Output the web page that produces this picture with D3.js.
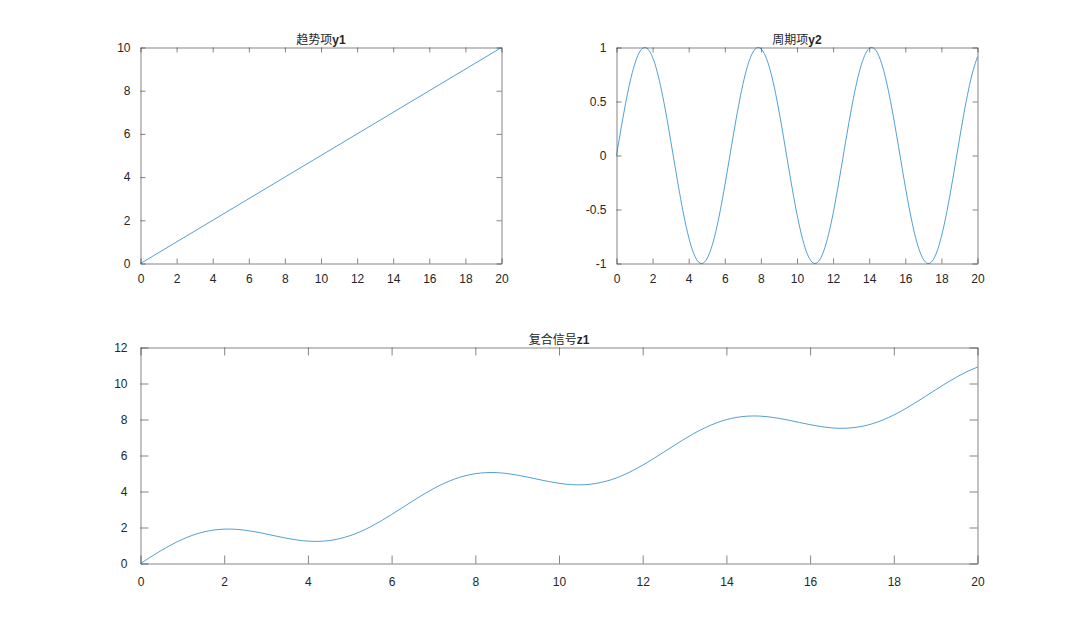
<!DOCTYPE html>
<html>
<head>
<meta charset="utf-8">
<script src="https://cdn.jsdelivr.net/npm/d3@7"></script>
<style>
  body { margin: 0; background: #fff; }
  text { font-family: "Liberation Sans", Arial, sans-serif; fill: #262626; }
</style>
</head>
<body>
<svg id="svg" width="1080" height="633"></svg>
<script>
// sample positions
var t = [0,0.25,0.5,0.75,1,1.25,1.5,1.75,2,2.25,2.5,2.75,3,3.25,3.5,3.75,4,4.25,4.5,4.75,
  5,5.25,5.5,5.75,6,6.25,6.5,6.75,7,7.25,7.5,7.75,8,8.25,8.5,8.75,9,9.25,9.5,9.75,
  10,10.25,10.5,10.75,11,11.25,11.5,11.75,12,12.25,12.5,12.75,13,13.25,13.5,13.75,
  14,14.25,14.5,14.75,15,15.25,15.5,15.75,16,16.25,16.5,16.75,17,17.25,17.5,17.75,
  18,18.25,18.5,18.75,19,19.25,19.5,19.75,20];

// trend term: straight line
var tTrend = [0, 20];
var y1 = [0, 10];

// periodic term
var y2 = [0,0.247,0.479,0.682,0.841,0.949,0.997,0.984,0.909,0.778,0.598,0.382,0.141,-0.108,-0.351,-0.572,
  -0.757,-0.895,-0.978,-0.999,-0.959,-0.859,-0.706,-0.508,-0.279,-0.033,0.215,0.450,0.657,0.824,0.938,0.995,
  0.989,0.922,0.799,0.625,0.412,0.174,-0.075,-0.320,-0.544,-0.735,-0.880,-0.970,-1.000,-0.968,-0.876,-0.729,
  -0.537,-0.311,-0.066,0.183,0.420,0.632,0.804,0.926,0.991,0.994,0.935,0.818,0.650,0.442,0.206,-0.042,
  -0.288,-0.516,-0.712,-0.864,-0.961,-1.000,-0.976,-0.891,-0.751,-0.564,-0.342,-0.099,0.150,0.390,0.606,0.784,0.913];

// composite signal
var z1 = [0,0.372,0.729,1.057,1.341,1.574,1.747,1.859,1.909,1.903,1.848,1.757,1.641,1.517,1.399,1.303,
  1.243,1.230,1.272,1.376,1.541,1.766,2.044,2.367,2.721,3.092,3.465,3.825,4.157,4.449,4.688,4.870,
  4.989,5.047,5.049,5.000,4.912,4.799,4.675,4.556,4.456,4.390,4.370,4.405,4.500,4.657,4.874,5.146,
  5.463,5.814,6.184,6.557,6.920,7.257,7.554,7.801,7.991,8.119,8.185,8.193,8.150,8.067,7.956,7.833,
  7.712,7.609,7.538,7.511,7.539,7.625,7.774,7.984,8.249,8.561,8.908,9.276,9.650,10.015,10.356,10.659,10.913];

var xTicks = [0,2,4,6,8,10,12,14,16,18,20];
var y1Ticks = [0,2,4,6,8,10];
var y2Ticks = [-1,-0.5,0,0.5,1];
var z1Ticks = [0,2,4,6,8,10,12];

var svg = d3.select("#svg");
var lineColor = "#0072BD";
var axisColor = "#262626";

// plain hyphen for negatives, like the original
var fmt = function(d) { return String(d); };

function drawPanel(opt) {
  var x = d3.scaleLinear().domain([0, 20]).range([opt.left, opt.right]);
  var y = d3.scaleLinear().domain(opt.yDomain).range([opt.bottom, opt.top]);
  var g = svg.append("g");
  var tl = opt.tickLen;

  // axes on all four sides, ticks pointing inward
  g.append("g").attr("transform", "translate(0," + opt.bottom + ")")
    .call(d3.axisBottom(x).tickValues(xTicks).tickSizeInner(-tl).tickSizeOuter(0).tickPadding(6 + tl).tickFormat(fmt));
  g.append("g").attr("transform", "translate(0," + opt.top + ")")
    .call(d3.axisTop(x).tickValues(xTicks).tickSizeInner(-tl).tickSizeOuter(0).tickFormat(""));
  g.append("g").attr("transform", "translate(" + opt.left + ",0)")
    .call(d3.axisLeft(y).tickValues(opt.yTicks).tickSizeInner(-tl).tickSizeOuter(0).tickPadding(5 + tl).tickFormat(fmt));
  g.append("g").attr("transform", "translate(" + opt.right + ",0)")
    .call(d3.axisRight(y).tickValues(opt.yTicks).tickSizeInner(-tl).tickSizeOuter(0).tickFormat(""));

  g.selectAll(".domain").attr("stroke", axisColor).attr("stroke-width", 0.8).attr("stroke-opacity", 0.7);
  g.selectAll(".tick line").attr("stroke", axisColor).attr("stroke-width", 0.8).attr("stroke-opacity", 0.7);
  g.selectAll(".tick text").attr("fill", axisColor)
    .style("font-family", "'Liberation Sans', Arial, sans-serif").style("font-size", "12px");

  var line = d3.line()
    .x(function(d) { return x(d[0]); })
    .y(function(d) { return y(d[1]); })
    .curve(opt.curve);
  g.append("path")
    .datum(opt.xs.map(function(v, i) { return [v, opt.ys[i]]; }))
    .attr("fill", "none")
    .attr("stroke", lineColor)
    .attr("stroke-width", 0.8)
    .attr("stroke-opacity", 0.85)
    .attr("d", line);

  var title = g.append("text")
    .attr("x", (opt.left + opt.right) / 2)
    .attr("y", opt.top - 4)
    .attr("text-anchor", "middle")
    .style("font-size", "12px");
  title.append("tspan").style("font-family", "'Noto Sans CJK SC', sans-serif").text(opt.titleCn);
  title.append("tspan").style("font-weight", "bold").text(opt.titleEn);
}

drawPanel({ left: 140.5, right: 501.5, top: 47.5, bottom: 263.5, tickLen: 5,
  yDomain: [0, 10], yTicks: y1Ticks, xs: tTrend, ys: y1, curve: d3.curveLinear,
  titleCn: "趋势项", titleEn: "y1" });
drawPanel({ left: 616.5, right: 977.5, top: 47.5, bottom: 263.5, tickLen: 5,
  yDomain: [-1, 1], yTicks: y2Ticks, xs: t, ys: y2, curve: d3.curveNatural,
  titleCn: "周期项", titleEn: "y2" });
drawPanel({ left: 140.5, right: 977.5, top: 347.5, bottom: 563.5, tickLen: 8,
  yDomain: [0, 12], yTicks: z1Ticks, xs: t, ys: z1, curve: d3.curveNatural,
  titleCn: "复合信号", titleEn: "z1" });
</script>
</body>
</html>
